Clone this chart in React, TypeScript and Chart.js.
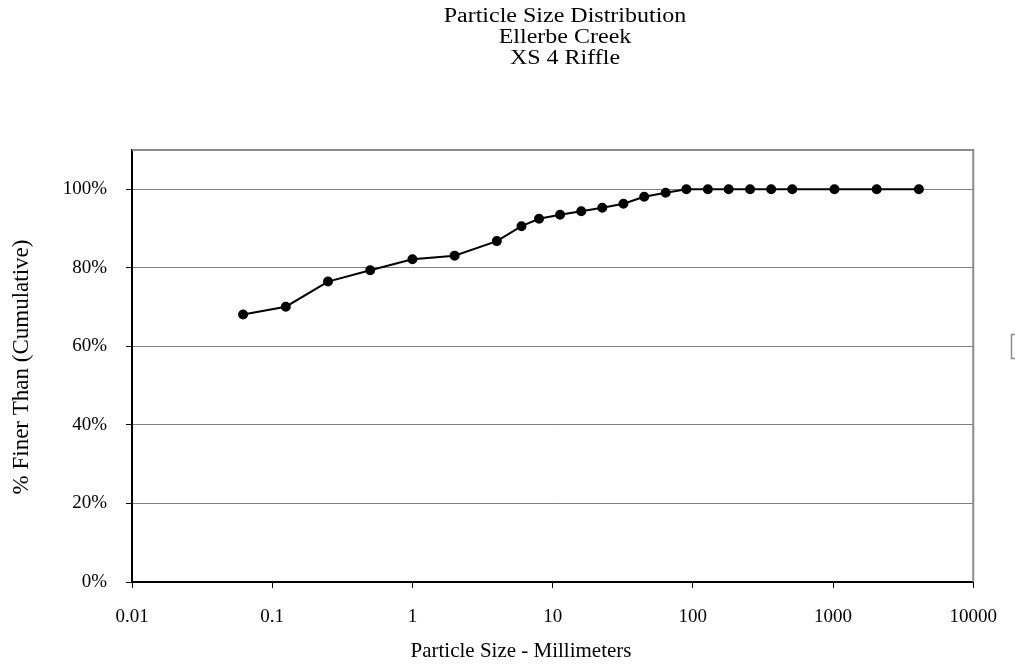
import React, { useEffect, useRef } from "react";
import { Chart, registerables } from "chart.js";

Chart.register(...registerables);

const titleLines = ["Particle Size Distribution", "Ellerbe Creek", "XS 4 Riffle"];
const xAxisTitle = "Particle Size - Millimeters";
const yAxisTitle = "% Finer Than (Cumulative)";
const particleSizes = [0.062, 0.125, 0.25, 0.5, 1, 2, 4, 6, 8, 11.3, 16, 22.6, 32, 45, 64, 90, 128, 180, 256, 362, 512, 1024, 2048, 4096];
const percentFiner = [68.1, 70.1, 76.5, 79.4, 82.2, 83.1, 86.8, 90.6, 92.5, 93.5, 94.4, 95.3, 96.3, 98.1, 99.1, 100, 100, 100, 100, 100, 100, 100, 100, 100];
const xTickValues = [0.01, 0.1, 1, 10, 100, 1000, 10000];
const xTickLabels = ["0.01", "0.1", "1", "10", "100", "1000", "10000"];
const yTickValues = [0, 20, 40, 60, 80, 100];

const FONT = "'Liberation Serif', 'Times New Roman', serif";

export default function App() {
  const ref = useRef<HTMLCanvasElement | null>(null);

  useEffect(() => {
    if (!ref.current) return;
    const decor = {
      id: "decor",
      afterDraw(chart: any) {
        const ctx = chart.ctx;
        const a = chart.chartArea;
        ctx.save();
        // top / right gray border
        ctx.strokeStyle = "#8c8c8c";
        ctx.lineWidth = 2;
        ctx.beginPath();
        ctx.moveTo(a.left, a.top);
        ctx.lineTo(a.right, a.top);
        ctx.lineTo(a.right, a.bottom);
        ctx.stroke();
        ctx.restore();
        // titles (slightly wide lettering)
        ctx.save();
        ctx.fillStyle = "#000";
        ctx.textAlign = "center";
        ctx.textBaseline = "alphabetic";
        ctx.font = `20px ${FONT}`;
        const sx = 1.2;
        ctx.scale(sx, 1);
        titleLines.forEach((t, i) => ctx.fillText(t, 565 / sx, 22 + i * 21));
        ctx.restore();
        // axis titles
        ctx.save();
        ctx.fillStyle = "#000";
        ctx.textAlign = "center";
        ctx.textBaseline = "middle";
        ctx.font = `21px ${FONT}`;
        ctx.fillText(xAxisTitle, 521, 651);
        ctx.translate(22, 367);
        ctx.rotate(-Math.PI / 2);
        ctx.font = `23px ${FONT}`;
        ctx.fillText(yAxisTitle, 0, 0);
        ctx.restore();
        // empty legend box
        ctx.save();
        ctx.strokeStyle = "#8c8c8c";
        ctx.lineWidth = 1.5;
        ctx.strokeRect(1011.5, 334.5, 30, 24);
        ctx.restore();
      },
    };

    const chart = new Chart(ref.current, {
      type: "scatter",
      data: {
        datasets: [
          {
            data: particleSizes.map((x, i) => ({ x, y: percentFiner[i] })),
            showLine: true,
            borderColor: "#000",
            backgroundColor: "#000",
            borderWidth: 2,
            pointRadius: 4,
            pointBackgroundColor: "#000",
            pointBorderColor: "#000",
          },
        ],
      },
      options: {
        animation: false,
        responsive: false,
        layout: { padding: { top: 150, right: 39, left: 0, bottom: 0 } },
        plugins: { legend: { display: false }, title: { display: false }, tooltip: { enabled: false } },
        scales: {
          x: {
            type: "logarithmic",
            min: 0.01,
            max: 10000,
            afterBuildTicks: (s: any) => {
              s.ticks = xTickValues.map((v) => ({ value: v }));
            },
            afterFit: (s: any) => {
              s.height = 88;
            },
            ticks: {
              autoSkip: false,
              maxRotation: 0,
              padding: 18,
              color: "#000",
              font: { family: FONT, size: 19 },
              callback: (v: any) => {
                const i = xTickValues.indexOf(Number(v));
                return i >= 0 ? xTickLabels[i] : "";
              },
            },
            grid: { drawOnChartArea: false, drawTicks: true, tickLength: 6, tickColor: "#000" },
            border: { color: "#000", width: 2 },
          },
          y: {
            type: "linear",
            min: 0,
            max: 110,
            afterBuildTicks: (s: any) => {
              s.ticks = yTickValues.map((v) => ({ value: v }));
            },
            afterFit: (s: any) => {
              s.width = 132;
            },
            ticks: {
              padding: 19,
              color: "#000",
              font: { family: FONT, size: 19 },
              callback: (v: any) => `${v}%`,
            },
            grid: { color: "#808080", lineWidth: 1, tickLength: 6, tickColor: "#000" },
            border: { color: "#000", width: 2 },
          },
        },
      },
      plugins: [decor],
    });
    return () => chart.destroy();
  }, []);

  return (
    <div style={{ position: "absolute", left: 0, top: 0, width: 1015, height: 670, background: "#fff" }}>
      <canvas ref={ref} width={1015} height={670} style={{ width: 1015, height: 670 }} />
    </div>
  );
}
